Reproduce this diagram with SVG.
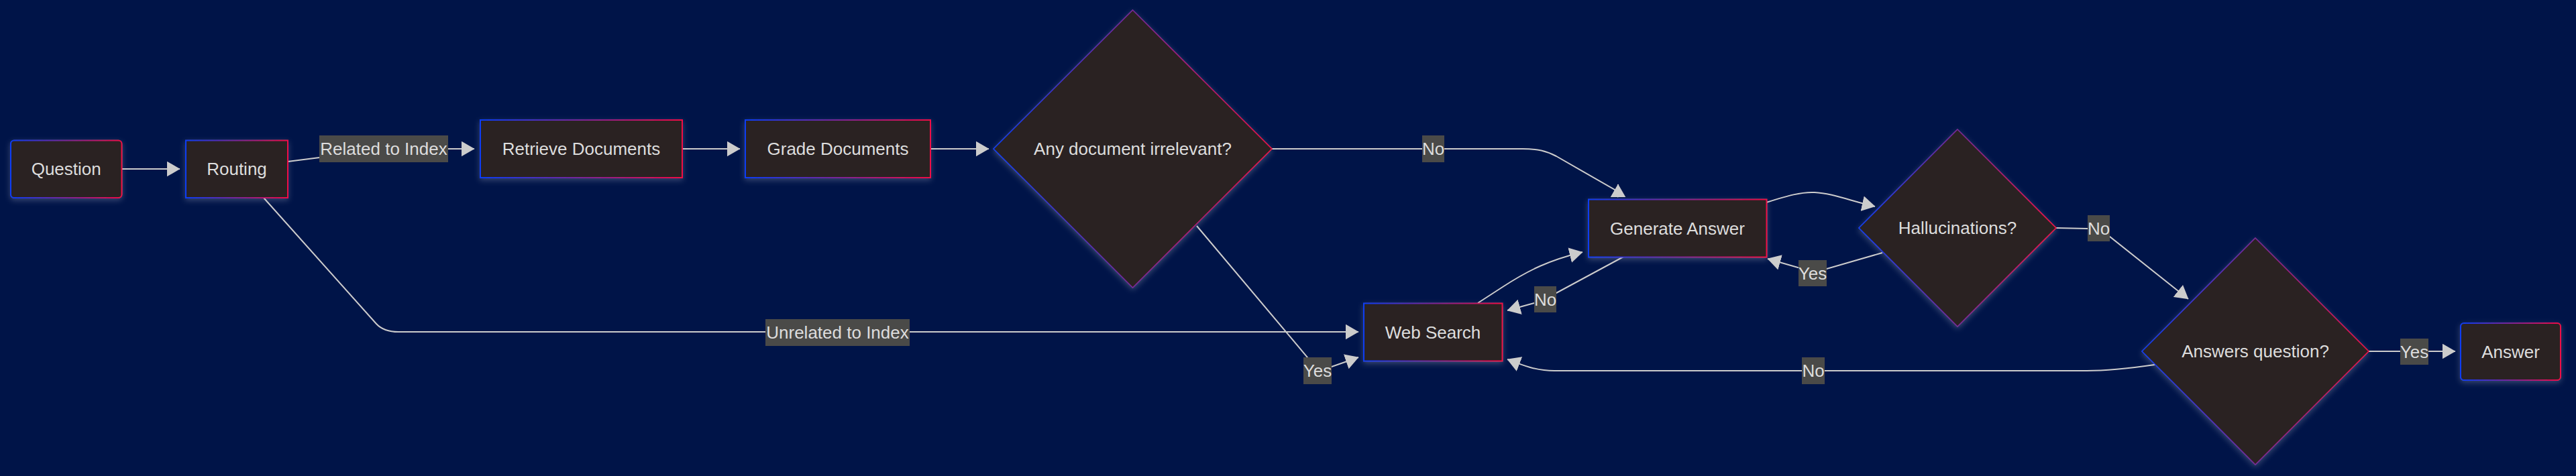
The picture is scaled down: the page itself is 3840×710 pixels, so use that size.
<svg xmlns="http://www.w3.org/2000/svg" width="3840" height="710" viewBox="0 0 3840 710">
<style>
.bg{fill:#001448}
.node rect,.node polygon{fill:#2c2221;filter:url(#glow)}
.node rect{stroke:url(#grad);stroke-width:2}
.node polygon{stroke:url(#grad);stroke-width:1.6}
.node text{font-family:"Liberation Sans",Arial,sans-serif;font-size:26px;fill:#dddddd;text-anchor:middle}
.edge{fill:none;stroke:#cccccc;stroke-width:2;marker-end:url(#arrow)}
.lbl rect{fill:#4a4a48}
.lbl text{font-family:"Liberation Sans",Arial,sans-serif;font-size:26px;fill:#dddddd;text-anchor:middle}
</style>
<defs>
<linearGradient id="grad" x1="0" y1="0" x2="1" y2="0">
<stop offset="0" stop-color="#0a3cf5"/>
<stop offset="0.5" stop-color="#7a2596"/>
<stop offset="1" stop-color="#f00a46"/>
</linearGradient>
<filter id="glow" x="-20%" y="-20%" width="140%" height="150%">
<feDropShadow dx="0" dy="3" stdDeviation="4" flood-color="#c8c8d8" flood-opacity="0.28"/>
</filter>
<marker id="arrow" markerUnits="userSpaceOnUse" markerWidth="20" markerHeight="23" viewBox="0 0 19 22" refX="18.5" refY="11" orient="auto">
<path d="M0,0 L19,11 L0,22 z" fill="#cccccc"/>
</marker>
</defs>
<rect class="bg" x="0" y="0" width="3840" height="710"/>

<g id="connectors">
<path class="edge" d="M182,252 L268,252"/>
<path class="edge" d="M429,241 L476,235 Q490,222 520,222 L707,222"/>
<path class="edge" d="M1017,222 L1103,222"/>
<path class="edge" d="M1387,222 L1474,222"/>
<path class="edge" d="M1896,222 L2270,222 C2292,222 2305,225 2320,233 L2407,283 L2412,294 L2412,275"/>
<path class="edge" d="M393,295 L561,483 Q572,495 594,495 L2025,495"/>
<path class="edge" d="M1784,337 L1949,533 L1964,553 L1985,547 L2025,533"/>
<path class="edge" d="M2203,452 L2240,428 C2280,402 2310,388 2359,376"/>
<path class="edge" d="M2420,383 L2320,437 L2287,452 L2247,463"/>
<path class="edge" d="M2633,302 C2665,292 2685,286 2705,287 C2730,288 2760,300 2795,308"/>
<path class="edge" d="M2806,377 L2723,401 L2680,399 L2635,386"/>
<path class="edge" d="M3065,340 L3112,341 L3145,353 L3262,446"/>
<path class="edge" d="M3531,524 L3660,524"/>
<path class="edge" d="M3212,544 C3170,550 3140,553 3111,553 L2317,553 C2290,553 2270,545 2247,536"/>
</g>

<g id="edge-labels">
<g class="lbl"><rect x="476" y="202" width="192" height="40"/><text x="572" y="231">Related to Index</text></g>
<g class="lbl"><rect x="1141" y="476" width="215" height="40"/><text x="1248.5" y="505">Unrelated to Index</text></g>
<g class="lbl"><rect x="2120" y="202" width="33" height="40"/><text x="2136.5" y="231">No</text></g>
<g class="lbl"><rect x="1943" y="533" width="42" height="40"/><text x="1964" y="562">Yes</text></g>
<g class="lbl"><rect x="2287" y="427" width="33" height="39"/><text x="2303.5" y="455.5">No</text></g>
<g class="lbl"><rect x="2681" y="388" width="42" height="39"/><text x="2702" y="417">Yes</text></g>
<g class="lbl"><rect x="3112" y="321" width="33" height="39"/><text x="3128.5" y="349.5">No</text></g>
<g class="lbl"><rect x="3578" y="505" width="42" height="39"/><text x="3599" y="533.5">Yes</text></g>
<g class="lbl"><rect x="2686" y="533" width="34" height="40"/><text x="2703" y="562">No</text></g>
</g>

<g id="node-question" class="node"><rect x="16" y="209.5" width="165.5" height="85.5" rx="5"/><text x="98.7" y="261.2">Question</text></g>
<g id="node-routing" class="node"><rect x="277" y="209.5" width="152" height="85.5"/><text x="353" y="261.2">Routing</text></g>
<g id="node-retrieve" class="node"><rect x="716" y="179" width="301" height="86"/><text x="866.5" y="231">Retrieve Documents</text></g>
<g id="node-grade" class="node"><rect x="1111" y="179" width="276" height="86"/><text x="1249" y="231">Grade Documents</text></g>
<g id="node-irrelevant" class="node"><polygon points="1688.5,15 1896,222 1688.5,429 1481,222"/><text x="1688.5" y="231">Any document irrelevant?</text></g>
<g id="node-generate" class="node"><rect x="2368" y="297.5" width="265.5" height="86"/><text x="2500.5" y="349.5">Generate Answer</text></g>
<g id="node-websearch" class="node"><rect x="2033" y="452.5" width="206.5" height="86"/><text x="2136" y="504.5">Web Search</text></g>
<g id="node-hallucinations" class="node"><polygon points="2918,193 3065,340 2918,487 2771,340"/><text x="2918" y="349">Hallucinations?</text></g>
<g id="node-answersq" class="node"><polygon points="3362,355 3531,524 3362,693 3193,524"/><text x="3362" y="533">Answers question?</text></g>
<g id="node-answer" class="node"><rect x="3668" y="482" width="149" height="85" rx="5"/><text x="3742.5" y="533.5">Answer</text></g>
</svg>
